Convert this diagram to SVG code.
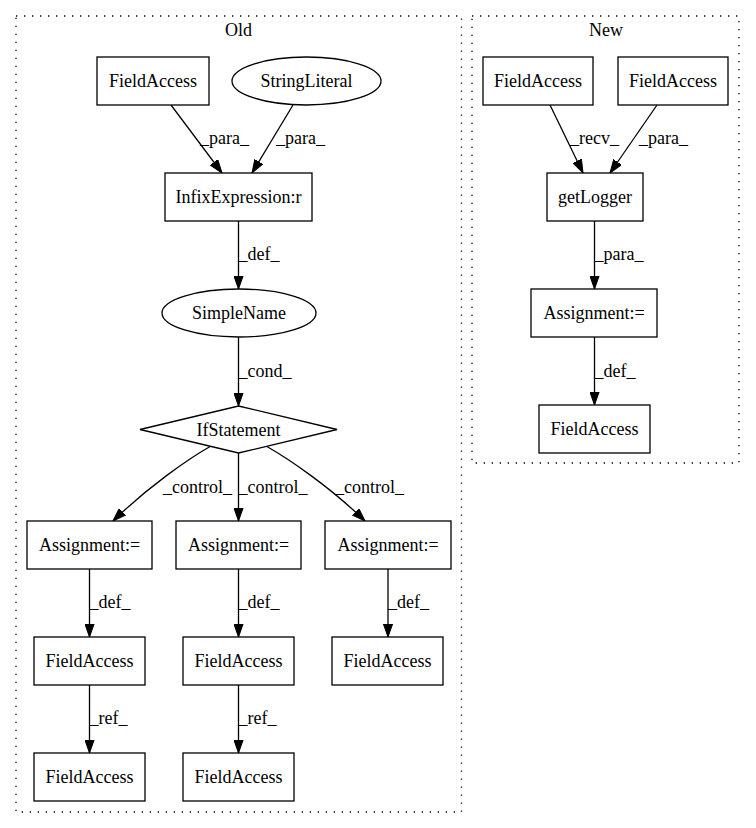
<svg xmlns="http://www.w3.org/2000/svg" width="756" height="828" viewBox="0 0 756 828">
<defs>
<style>
.cl{fill:none;stroke:#000;stroke-width:1.3;stroke-dasharray:1.3,6.7}
.nd{fill:#fff;stroke:#000;stroke-width:1.3}
.t{font-family:"Liberation Serif","Times New Roman",serif;font-size:18px;fill:#000}
.c{text-anchor:middle}
.e{fill:none;stroke:#000;stroke-width:1.3;marker-end:url(#ah)}
</style>
<marker id="ah" markerUnits="userSpaceOnUse" markerWidth="14" markerHeight="10" viewBox="0 -5 14 10" refX="13.3" refY="0" orient="auto">
<path d="M0,-4.7 L13.3,0 L0,4.7 z" fill="#000" stroke="#000" stroke-width="1"/>
</marker>
</defs>
<rect width="756" height="828" fill="#fff"/>
<g id="cluster-old">
<rect class="cl" x="16" y="16" width="445.5" height="796"/>
<text class="t c" x="238.5" y="36">Old</text>
</g>
<g id="cluster-new">
<rect class="cl" x="472" y="16" width="267" height="447"/>
<text class="t c" x="606" y="36">New</text>
</g>
<g id="edges">
<path class="e" d="M171,105 L222,173"/>
<text class="t" x="200" y="144">_para_</text>
<path class="e" d="M293,105 L252,173"/>
<text class="t" x="276" y="144">_para_</text>
<path class="e" d="M238.5,221 L238.5,289"/>
<text class="t" x="238.5" y="260">_def_</text>
<path class="e" d="M238.5,337 L238.5,406"/>
<text class="t" x="238.5" y="377">_cond_</text>
<path class="e" d="M211,446 C188,459 148,487 113,521"/>
<text class="t" x="163" y="493">_control_</text>
<path class="e" d="M238.5,453 L238.5,521"/>
<text class="t" x="238.5" y="493">_control_</text>
<path class="e" d="M266,446 C289,459 330,487 365,521"/>
<text class="t" x="335" y="493">_control_</text>
<path class="e" d="M89.5,569 L89.5,637"/>
<text class="t" x="89.5" y="608">_def_</text>
<path class="e" d="M238.5,569 L238.5,637"/>
<text class="t" x="238.5" y="608">_def_</text>
<path class="e" d="M388,569 L388,637"/>
<text class="t" x="388" y="608">_def_</text>
<path class="e" d="M89.5,685 L89.5,753"/>
<text class="t" x="89.5" y="724">_ref_</text>
<path class="e" d="M238.5,685 L238.5,753"/>
<text class="t" x="238.5" y="724">_ref_</text>
<path class="e" d="M550,105 L583,173"/>
<text class="t" x="570" y="144">_recv_</text>
<path class="e" d="M657,105 L610,173"/>
<text class="t" x="639" y="144">_para_</text>
<path class="e" d="M594.5,221 L594.5,289"/>
<text class="t" x="594.5" y="260">_para_</text>
<path class="e" d="M594.5,337 L594.5,405"/>
<text class="t" x="594.5" y="377">_def_</text>
</g>
<g id="n1"><rect class="nd" x="97" y="57" width="112" height="48"/><text class="t c" x="153" y="87">FieldAccess</text></g>
<g id="n2"><ellipse class="nd" cx="306.5" cy="81" rx="74.5" ry="24"/><text class="t c" x="306.5" y="87">StringLiteral</text></g>
<g id="n3"><rect class="nd" x="165" y="173" width="147" height="48"/><text class="t c" x="238.5" y="203">InfixExpression:r</text></g>
<g id="n4"><ellipse class="nd" cx="239" cy="313" rx="77" ry="24"/><text class="t c" x="239" y="319">SimpleName</text></g>
<g id="n5"><polygon class="nd" points="238.5,406 337,429.5 238.5,453 140,429.5"/><text class="t c" x="238.5" y="435.5">IfStatement</text></g>
<g id="n6"><rect class="nd" x="27" y="521" width="125" height="48"/><text class="t c" x="89.5" y="551">Assignment:=</text></g>
<g id="n7"><rect class="nd" x="176" y="521" width="125" height="48"/><text class="t c" x="238.5" y="551">Assignment:=</text></g>
<g id="n8"><rect class="nd" x="325" y="521" width="126" height="48"/><text class="t c" x="388" y="551">Assignment:=</text></g>
<g id="n9"><rect class="nd" x="34" y="637" width="111" height="48"/><text class="t c" x="89.5" y="667">FieldAccess</text></g>
<g id="n10"><rect class="nd" x="183" y="637" width="111" height="48"/><text class="t c" x="238.5" y="667">FieldAccess</text></g>
<g id="n11"><rect class="nd" x="332" y="637" width="111" height="48"/><text class="t c" x="387.5" y="667">FieldAccess</text></g>
<g id="n12"><rect class="nd" x="34" y="753" width="111" height="48"/><text class="t c" x="89.5" y="783">FieldAccess</text></g>
<g id="n13"><rect class="nd" x="183" y="753" width="111" height="48"/><text class="t c" x="238.5" y="783">FieldAccess</text></g>
<g id="n14"><rect class="nd" x="483" y="57" width="110" height="48"/><text class="t c" x="538" y="87">FieldAccess</text></g>
<g id="n15"><rect class="nd" x="618" y="57" width="110" height="48"/><text class="t c" x="673" y="87">FieldAccess</text></g>
<g id="n16"><rect class="nd" x="547" y="173" width="96" height="48"/><text class="t c" x="595" y="203">getLogger</text></g>
<g id="n17"><rect class="nd" x="531" y="289" width="126" height="48"/><text class="t c" x="594" y="319">Assignment:=</text></g>
<g id="n18"><rect class="nd" x="539" y="405" width="111" height="48"/><text class="t c" x="594.5" y="435">FieldAccess</text></g>
</svg>
